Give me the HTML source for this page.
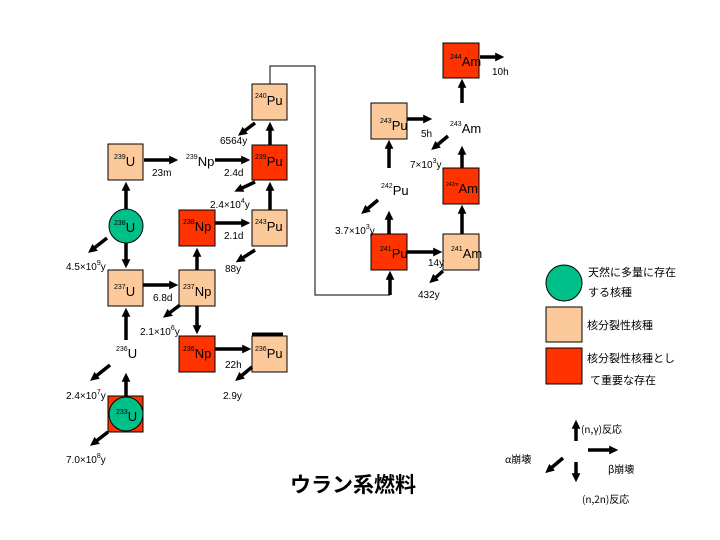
<!DOCTYPE html>
<html><head><meta charset="utf-8"><style>
html,body{margin:0;padding:0;background:#fff;}
svg{display:block;}
text{font-family:"Liberation Sans","Noto Sans CJK JP",sans-serif;fill:#000;}
.j{font-family:"Noto Sans CJK JP",sans-serif;}
.n{font-size:13px}
.m{font-size:7px}
.l{font-size:10px}
</style></head><body>
<svg width="720" height="540" viewBox="0 0 720 540" xmlns="http://www.w3.org/2000/svg">
<defs>
<marker id="a" markerWidth="3" markerHeight="3" refX="0.8" refY="1.25" orient="auto" markerUnits="strokeWidth">
<path d="M0,0 L2.6,1.25 L0,2.5 z" fill="#000"/></marker>
</defs>
<g stroke="#000" stroke-width="1">
<rect x="443" y="43" width="36" height="35" fill="#ff3300"/>
<rect x="252" y="84" width="35" height="36" fill="#fbc99a"/>
<rect x="371" y="103" width="36" height="36" fill="#fbc99a"/>
<rect x="108" y="144" width="35" height="36" fill="#fbc99a"/>
<rect x="252" y="145" width="35" height="35" fill="#ff3300"/>
<rect x="443" y="168" width="36" height="36" fill="#ff3300"/>
<rect x="179" y="210" width="36" height="36" fill="#ff3300"/>
<rect x="252" y="210" width="35" height="36" fill="#fbc99a"/>
<rect x="371" y="234" width="36" height="36" fill="#ff3300"/>
<rect x="443" y="234" width="36" height="36" fill="#fbc99a"/>
<rect x="108" y="270" width="35" height="36" fill="#fbc99a"/>
<rect x="179" y="270" width="36" height="36" fill="#fbc99a"/>
<rect x="179" y="336" width="36" height="36" fill="#ff3300"/>
<rect x="252" y="336" width="35" height="36" fill="#fbc99a"/>
<rect x="108" y="396" width="35" height="36" fill="#ff3300"/>
<circle cx="126" cy="226" r="17" fill="#00c08a"/>
<circle cx="126" cy="414" r="17" fill="#00c08a"/>
<circle cx="564" cy="283" r="18" fill="#00c08a"/>
<rect x="546" y="307" width="36" height="35" fill="#fbc99a"/>
<rect x="546" y="348" width="36" height="36" fill="#ff3300"/>
</g>
<line x1="252" y1="334" x2="283" y2="334" stroke="#000" stroke-width="3"/>
<polyline points="270,84 270,66 315,66 315,295 390,295" fill="none" stroke="#000" stroke-width="1"/>
<g stroke="#000" stroke-width="3.5" marker-end="url(#a)" fill="none">
<line x1="480" y1="57" x2="498" y2="57"/>
<line x1="407" y1="119" x2="426" y2="119"/>
<line x1="462" y1="103" x2="462" y2="85"/>
<line x1="448" y1="136" x2="436" y2="146"/>
<line x1="462" y1="168" x2="462" y2="152"/>
<line x1="389" y1="168" x2="389" y2="146"/>
<line x1="378" y1="200" x2="366" y2="210"/>
<line x1="389" y1="234" x2="389" y2="217"/>
<line x1="407" y1="252" x2="436" y2="252"/>
<line x1="462" y1="234" x2="462" y2="211"/>
<line x1="443" y1="271" x2="434" y2="279"/>
<line x1="390" y1="295" x2="390" y2="277"/>
<line x1="255" y1="123" x2="243" y2="132"/>
<line x1="270" y1="145" x2="270" y2="128"/>
<line x1="144" y1="160" x2="172" y2="160"/>
<line x1="215" y1="160" x2="244" y2="160"/>
<line x1="255" y1="182" x2="240" y2="189"/>
<line x1="270" y1="210" x2="270" y2="188"/>
<line x1="126" y1="209" x2="126" y2="188"/>
<line x1="215" y1="223" x2="244" y2="223"/>
<line x1="255" y1="250" x2="241" y2="259"/>
<line x1="126" y1="243" x2="126" y2="262"/>
<line x1="107" y1="238" x2="93" y2="249"/>
<line x1="143" y1="285" x2="172" y2="285"/>
<line x1="197" y1="306" x2="197" y2="328"/>
<line x1="197" y1="270" x2="197" y2="254"/>
<line x1="180" y1="305" x2="168" y2="314"/>
<line x1="126" y1="340" x2="126" y2="314"/>
<line x1="110" y1="365" x2="95" y2="377"/>
<line x1="215" y1="349" x2="245" y2="349"/>
<line x1="252" y1="367" x2="240" y2="377"/>
<line x1="126" y1="396" x2="126" y2="379"/>
<line x1="108" y1="432" x2="95" y2="442"/>
<line x1="576" y1="441" x2="576" y2="426"/>
<line x1="588" y1="450" x2="612" y2="450"/>
<line x1="563" y1="458" x2="550" y2="469"/>
<line x1="576" y1="462" x2="576" y2="476"/>
</g>
<g class="n">
<text x="450" y="66"><tspan class="m" dy="-7">244</tspan><tspan dy="7">Am</tspan></text>
<text x="255" y="105"><tspan class="m" dy="-7">240</tspan><tspan dy="7">Pu</tspan></text>
<text x="380" y="130"><tspan class="m" dy="-7">243</tspan><tspan dy="7">Pu</tspan></text>
<text x="450" y="133"><tspan class="m" dy="-7">243</tspan><tspan dy="7">Am</tspan></text>
<text x="114" y="166"><tspan class="m" dy="-7">239</tspan><tspan dy="7">U</tspan></text>
<text x="186" y="166"><tspan class="m" dy="-7">239</tspan><tspan dy="7">Np</tspan></text>
<text x="255" y="166"><tspan class="m" dy="-7">239</tspan><tspan dy="7">Pu</tspan></text>
<text x="446" y="193"><tspan class="m" dy="-7" style="font-size:5px">242m</tspan><tspan dy="7">Am</tspan></text>
<text x="381" y="195"><tspan class="m" dy="-7">242</tspan><tspan dy="7">Pu</tspan></text>
<text x="114" y="232"><tspan class="m" dy="-7">238</tspan><tspan dy="7">U</tspan></text>
<text x="183" y="231"><tspan class="m" dy="-7">238</tspan><tspan dy="7">Np</tspan></text>
<text x="255" y="231"><tspan class="m" dy="-7">243</tspan><tspan dy="7">Pu</tspan></text>
<text x="380" y="258"><tspan class="m" dy="-7">241</tspan><tspan dy="7">Pu</tspan></text>
<text x="451" y="258"><tspan class="m" dy="-7">241</tspan><tspan dy="7">Am</tspan></text>
<text x="114" y="296"><tspan class="m" dy="-7">237</tspan><tspan dy="7">U</tspan></text>
<text x="183" y="296"><tspan class="m" dy="-7">237</tspan><tspan dy="7">Np</tspan></text>
<text x="116" y="358"><tspan class="m" dy="-7">236</tspan><tspan dy="7">U</tspan></text>
<text x="183" y="358"><tspan class="m" dy="-7">236</tspan><tspan dy="7">Np</tspan></text>
<text x="255" y="358"><tspan class="m" dy="-7">236</tspan><tspan dy="7">Pu</tspan></text>
<text x="116" y="421"><tspan class="m" dy="-7">233</tspan><tspan dy="7">U</tspan></text>
</g>
<g class="l">
<text x="492" y="75">10h</text>
<text x="421" y="137">5h</text>
<text x="410" y="168">7×10<tspan class="m" dy="-5">3</tspan><tspan dy="5">y</tspan></text>
<text x="220" y="144">6564y</text>
<text x="152" y="176">23m</text>
<text x="224" y="176">2.4d</text>
<text x="210" y="208">2.4×10<tspan class="m" dy="-5">4</tspan><tspan dy="5">y</tspan></text>
<text x="224" y="239">2.1d</text>
<text x="335" y="234">3.7×10<tspan class="m" dy="-5">3</tspan><tspan dy="5">y</tspan></text>
<text x="428" y="266">14y</text>
<text x="225" y="272">88y</text>
<text x="66" y="270">4.5×10<tspan class="m" dy="-5">9</tspan><tspan dy="5">y</tspan></text>
<text x="418" y="298">432y</text>
<text x="153" y="301">6.8d</text>
<text x="140" y="335">2.1×10<tspan class="m" dy="-5">6</tspan><tspan dy="5">y</tspan></text>
<text x="225" y="368">22h</text>
<text x="66" y="399">2.4×10<tspan class="m" dy="-5">7</tspan><tspan dy="5">y</tspan></text>
<text x="223" y="399">2.9y</text>
<text x="66" y="463">7.0×10<tspan class="m" dy="-5">8</tspan><tspan dy="5">y</tspan></text>
</g>
<g class="j" style="font-size:11px">
<text x="588" y="276" class="j">天然に多量に存在</text>
<text x="588" y="296" class="j">する核種</text>
<text x="587" y="329" class="j">核分裂性核種</text>
<text x="587" y="362" class="j">核分裂性核種とし</text>
<text x="590" y="384" class="j">て重要な存在</text>
<text x="581" y="433" class="j" style="font-size:10px">(n,γ)反応</text>
<text x="608" y="473" class="j" style="font-size:10px">β崩壊</text>
<text x="505" y="463" class="j" style="font-size:10px">α崩壊</text>
<text x="582" y="503" class="j" style="font-size:10px">(n,2n)反応</text>
</g>
<text x="290" y="492" class="j" style="font-size:21px;font-weight:bold">ウラン系燃料</text>
</svg>
</body></html>
